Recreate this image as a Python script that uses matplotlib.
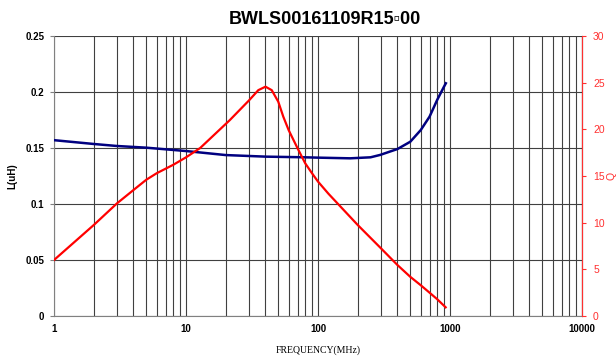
import matplotlib.pyplot as plt
from matplotlib.ticker import FixedLocator, NullFormatter

# inductance curve (uH) vs frequency (MHz)
freq_l = [1, 2, 3, 5, 10, 20, 40, 80, 100, 175, 250, 295, 400, 500, 600, 700,
          800, 900, 930]
ind_l = [0.157, 0.1536, 0.1518, 0.1503, 0.1473, 0.1437, 0.1423, 0.1417, 0.1414,
         0.1408, 0.1417, 0.1438, 0.1491, 0.1556, 0.166, 0.178, 0.193, 0.2047, 0.2078]

# Q curve vs frequency (MHz)
freq_q = [1, 2, 3, 4, 5, 6, 8, 10, 12.8, 21.5, 30, 35.3, 40, 44.6, 50, 54.6, 60,
          70, 80, 90, 100, 120, 200, 300, 400, 500, 600, 700, 800, 927]
q_vals = [6.0, 9.75, 12.07, 13.5, 14.6, 15.3, 16.2, 17.0, 18.0, 21.0, 23.1, 24.2,
          24.57, 24.2, 22.96, 21.35, 19.9, 17.97, 16.36, 15.3, 14.4, 13.1, 9.75,
          7.25, 5.46, 4.2, 3.3, 2.5, 1.8, 0.93]

title = "BWLS00161109R15\u25ab00"
x_ticks = [1, 10, 100, 1000, 10000]
l_ticks = [0, 0.05, 0.1, 0.15, 0.2, 0.25]
l_labels = ["0", "0.05", "0.1", "0.15", "0.2", "0.25"]
q_ticks = [0, 5, 10, 15, 20, 25, 30]

sans = ["Liberation Sans", "DejaVu Sans"]

fig = plt.figure(figsize=(6.16, 3.58), dpi=100)
ax = fig.add_axes([0.0877, 0.1173, 0.8571, 0.7821])

ax.set_xscale("log")
ax.set_xlim(1, 10000)
ax.set_ylim(0, 0.25)

minor = [m * 10 ** d for d in range(4) for m in range(2, 10)]
ax.xaxis.set_major_locator(FixedLocator(x_ticks))
ax.xaxis.set_minor_locator(FixedLocator(minor))
ax.xaxis.set_minor_formatter(NullFormatter())
ax.set_xticks(x_ticks)
ax.set_xticklabels([str(t) for t in x_ticks], fontsize=7, fontweight="bold", family=sans)
ax.set_yticks(l_ticks)
ax.set_yticklabels(l_labels, fontsize=7, fontweight="bold", family=sans)
ax.tick_params(axis="x", which="both", length=0, pad=6)
ax.tick_params(axis="y", length=3, color="#808080", pad=4)

ax.grid(True, which="both", axis="x", color="#404040", linewidth=0.8)
ax.grid(True, which="major", axis="y", color="#404040", linewidth=0.8)
ax.set_axisbelow(True)

for s in ["left", "bottom"]:
    ax.spines[s].set_color("#808080")
ax.spines["top"].set_visible(False)

ax.plot(freq_l, ind_l, color="#000080", linewidth=1.8, zorder=3,
        solid_joinstyle="round")

ax.set_xlabel("FREQUENCY(MHz)", fontsize=7, family=["Liberation Serif", "DejaVu Serif"],
              labelpad=8)
ax.set_ylabel("L(uH)", fontsize=7, fontweight="bold", family=sans)
ax.yaxis.set_label_coords(-0.07, 0.5)

ax2 = ax.twinx()
ax2.set_ylim(0, 30)
ax2.set_yticks(q_ticks)
ax2.set_yticklabels([str(t) for t in q_ticks], fontsize=7.5, color="#ff3030", family=sans)
ax2.tick_params(axis="y", length=3, color="#ff3030", pad=5)
ax2.spines["right"].set_color("#ff3030")
for s in ["top", "left", "bottom"]:
    ax2.spines[s].set_visible(False)
ax2.plot(freq_q, q_vals, color="#ff0000", linewidth=1.6, solid_joinstyle="round")
ax2.set_ylabel("Q", fontsize=7.5, color="#ff3030", rotation=90, family=sans)
ax2.yaxis.set_label_coords(1.047, 0.5)

fig.text(0.527, 0.945, title, ha="center", va="center", fontsize=13,
         fontweight="bold", family=sans)

fig.savefig("out.png", dpi=100)
